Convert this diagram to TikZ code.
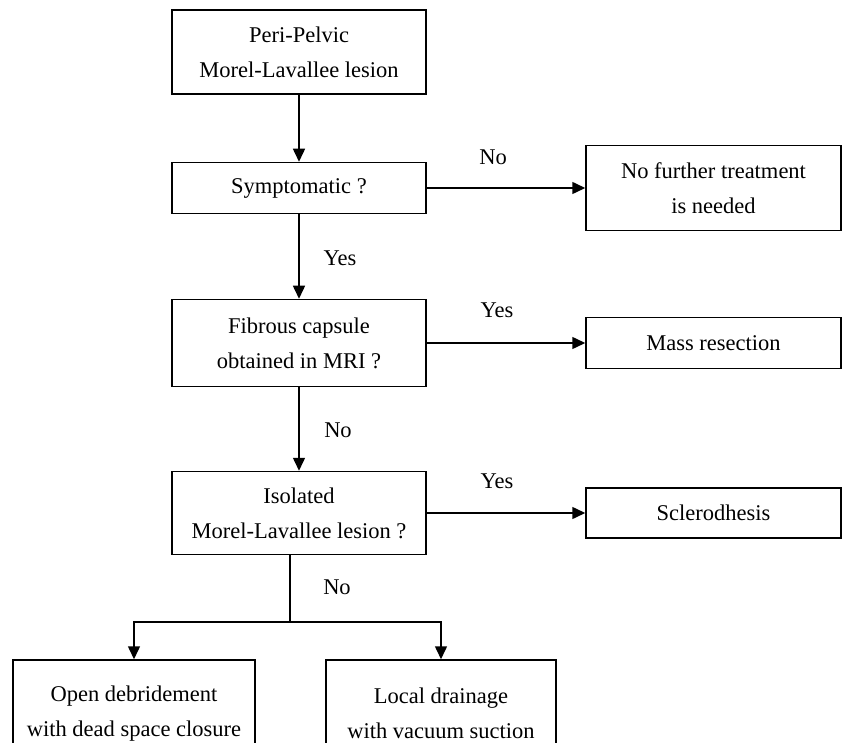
\documentclass[tikz,border=0pt]{standalone}
\usepackage{fontspec}
\setmainfont{Liberation Serif}
\usetikzlibrary{arrows.meta}
\begin{document}
\begin{tikzpicture}[x=1pt,y=-1pt,
  box/.style={draw,line width=1.5pt,align=center,inner sep=0pt,
    font=\fontsize{22.5}{35}\selectfont},
  arr/.style={line width=1.5pt,-{Triangle[length=13pt,width=12pt]}},
  lbl/.style={font=\fontsize{22.5}{26}\selectfont,inner sep=0pt}]
\clip (0,0) rectangle (843,743);
\fill[white] (0,0) rectangle (843,743);
\node[box,minimum width=254pt,minimum height=84pt] (b1) at (299,52) {Peri-Pelvic\\Morel-Lavallee lesion};
\node[box,minimum width=254pt,minimum height=51pt] (b2) at (299,188) {Symptomatic ?};
\node[box,minimum width=254pt,minimum height=87pt] (b3) at (299,343) {Fibrous capsule\\obtained in MRI ?};
\node[box,minimum width=254pt,minimum height=83pt] (b4) at (299,513) {Isolated\\Morel-Lavallee lesion ?};
\node[box,minimum width=255pt,minimum height=85pt] (nof) at (713.5,188) {No further treatment\\is needed};
\node[box,minimum width=255pt,minimum height=51pt] (mass) at (713.5,343) {Mass resection};
\node[box,minimum width=255pt,minimum height=50pt] (scl) at (713.5,513) {Sclerodhesis};
\node[box,minimum width=242pt,minimum height=107pt] (bl) at (134,713.5) {Open debridement\\with dead space closure};
\node[box,minimum width=230pt,minimum height=107pt] (br) at (441,713.5) {Local drainage\\with vacuum suction};
\coordinate (split) at (290,622);
\draw[arr] (b1) -- (b2);
\draw[arr] (b2) -- (b3);
\draw[arr] (b3) -- (b4);
\draw[arr] (b2) -- (nof);
\draw[arr] (b3) -- (mass);
\draw[arr] (b4) -- (scl);
\draw[line width=1.5pt] (b4.south -| split) -- (split);
\draw[arr] (split) -| (bl);
\draw[arr] (split) -| (br);
\node[lbl] (l1) at (493,157) {No};
\node[lbl] (l2) at (340,258) {Yes};
\node[lbl] (l3) at (497,310) {Yes};
\node[lbl] (l4) at (338,430) {No};
\node[lbl] (l5) at (497,481) {Yes};
\node[lbl] (l6) at (337,587) {No};
\end{tikzpicture}
\end{document}
